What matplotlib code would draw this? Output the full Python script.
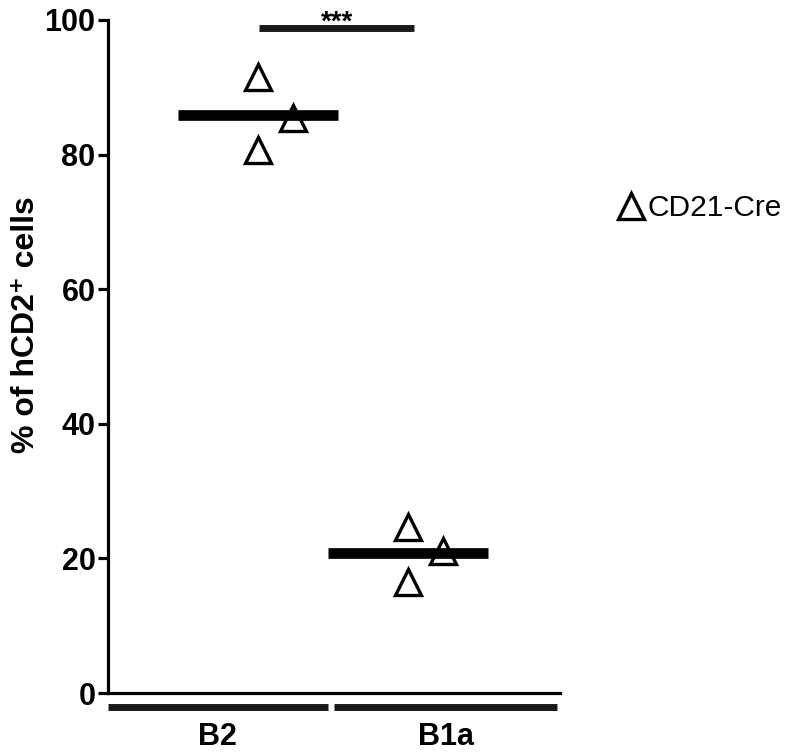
#!/usr/bin/env python3
# -*- coding: utf-8 -*-
"""
B2 / B1a hCD2+ 비율 - 점 + 평균선 그래프
"""

import matplotlib
matplotlib.use('Agg')
import matplotlib.pyplot as plt
from matplotlib.lines import Line2D
import numpy as np

plt.rcParams['font.family'] = ['Liberation Sans', 'DejaVu Sans']

# 데이터
groups = ['B2', 'B1a']
b2_values = [91.5, 80.7, 85.4]
b1a_values = [24.7, 16.5, 21.1]
series_label = 'CD21-Cre'
sig_text = '***'
sig_level = 98.8
y_ticks = [0, 20, 40, 60, 80, 100]


def create_chart():
    fig = plt.figure(figsize=(7.96, 7.54), dpi=100)
    ax = fig.add_axes([0.1357, 0.0809, 0.5678, 0.8926])

    offsets = [0.0, 0.0, 0.235]  # 겹침 방지용 좌우 이동
    for i, vals in enumerate([b2_values, b1a_values]):
        xs = [i + o for o in offsets]
        ax.plot(xs, vals, linestyle='none', marker='^', markersize=18.5,
                markerfacecolor='none', markeredgecolor='black',
                markeredgewidth=2.4, zorder=3, clip_on=False)
        m = np.mean(vals)
        ax.plot([i - 0.533, i + 0.533], [m, m], color='black', linewidth=7.7,
                solid_capstyle='butt', zorder=2)

    # 유의성 표시
    ax.plot([0.007, 1.04], [sig_level, sig_level], color='#1a1a1a',
            linewidth=5, solid_capstyle='butt', clip_on=False)
    ax.text(0.527, 98.5, sig_text, ha='center', va='baseline',
            fontsize=20, fontweight='bold', clip_on=False, zorder=4)

    ax.set_xlim(-1.0, 2.013)
    ax.set_ylim(0, 100)
    ax.set_yticks(y_ticks)
    ax.set_yticklabels([str(t) for t in y_ticks], fontsize=22, fontweight='bold')
    ax.set_xticks([])

    for side in ['top', 'right']:
        ax.spines[side].set_visible(False)
    for side in ['left', 'bottom']:
        ax.spines[side].set_linewidth(2.3)
    ax.tick_params(axis='y', direction='out', length=7, width=2.3, pad=2)

    # 그룹 막대 (축 아래)
    trans = ax.get_xaxis_transform()
    ax.plot([-1.0, 0.467], [-0.021, -0.021], transform=trans, color='#1a1a1a',
            linewidth=5, solid_capstyle='butt', clip_on=False)
    ax.plot([0.507, 1.993], [-0.021, -0.021], transform=trans, color='#1a1a1a',
            linewidth=5, solid_capstyle='butt', clip_on=False)
    ax.text(-0.27, -0.066, groups[0], transform=trans, ha='center', va='center',
            fontsize=22, fontweight='bold')
    ax.text(1.25, -0.066, groups[1], transform=trans, ha='center', va='center',
            fontsize=22, fontweight='bold')

    fig.text(26 / 796, 1 - 325 / 754, '% of hCD2\u207a cells', rotation=90,
             ha='center', va='center', fontsize=23, fontweight='bold')

    # 범례
    handle = Line2D([], [], linestyle='none', marker='^', markersize=18.5,
                    markerfacecolor='none', markeredgecolor='black',
                    markeredgewidth=2.4)
    fig.legend([handle], [series_label], loc='center left',
               bbox_to_anchor=(0.78, 1 - 208 / 754), frameon=False,
               fontsize=21.5, handlelength=0.7, handletextpad=0.2,
               borderpad=0, borderaxespad=0)

    plt.savefig('out.png', dpi=100)
    plt.close()


if __name__ == "__main__":
    create_chart()
